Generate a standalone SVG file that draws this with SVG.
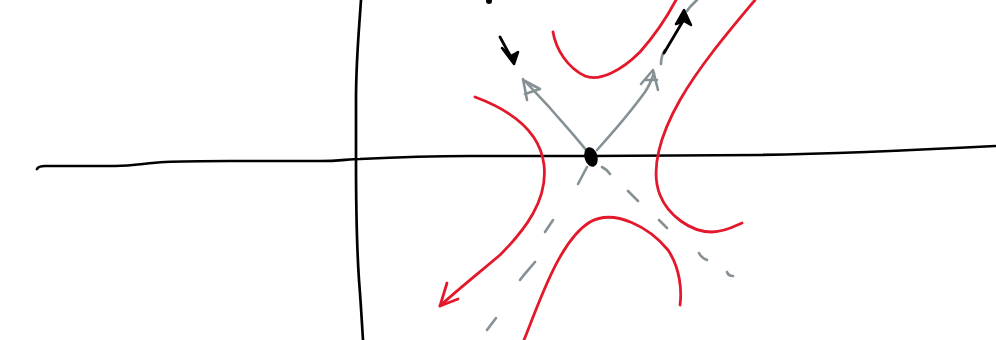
<svg xmlns="http://www.w3.org/2000/svg" width="996" height="340" viewBox="0 0 996 340">
<style>
.ax{fill:none;stroke:#000;stroke-width:2.7;stroke-linecap:round;stroke-linejoin:round}
.red{fill:none;stroke:#e3192b;stroke-width:2.8;stroke-linecap:round;stroke-linejoin:round}
.gray{fill:none;stroke:#869196;stroke-width:2.6;stroke-linecap:round;stroke-linejoin:round}
.blk{fill:none;stroke:#000;stroke-width:2.8;stroke-linecap:round;stroke-linejoin:round}
.head{fill:#000;stroke:#000;stroke-width:2.5;stroke-linejoin:round}
</style>
<rect width="996" height="340" fill="#fff"/>
<g id="axes">
<path class="ax" d="M37,169 C38,167 40,166 45,166 L115,166 C135,166 145,163 165,162 C185,161 200,161 230,161 L320,161 C340,161 348,159 360,159 C400,157 420,156 470,156 L590,156 C650,156 700,155 760,155 C820,154 880,152 995,146"/>
<path class="ax" d="M361,0 C359,30 356,60 356,100 L356,160 C356,210 357,250 359,280 C361,305 362,325 363,340"/>
</g>
<g id="trajectories">
<path class="red" d="M553,32 C556,50 568,68 585,76 C600,82 622,70 640,52 C655,35 668,15 676,0"/>
<path class="red" d="M755,0 C730,30 700,65 680,100 C660,135 650,170 660,195 C668,215 690,232 712,232 C725,232 735,226 742,223"/>
<path class="red" d="M475,97 C510,110 540,130 544,165 C548,200 525,230 500,255 C480,272 455,292 440,306"/>
<path class="red" d="M447,283 L440,306 L458,299"/>
<path class="red" d="M524,340 C540,300 560,240 590,222 C615,208 650,228 668,250 C680,268 682,290 680,305"/>
</g>
<g id="separatrices">
<path class="gray" d="M590,155 C577,138 562,122 550,108 C540,97 532,89 526,82"/>
<path class="gray" d="M523,79 L527,100 M523,80 L540,89 L525,94"/>
<path class="gray" d="M597,150 C615,130 632,110 645,92 C649,86 652,79 654,73"/>
<path class="gray" d="M653,70 L641,84 M653,70 L658,90 M645,80 L657,80"/>
<path class="gray" d="M661,64 C661,58 663,53 665,50"/>
<path class="gray" d="M687,11 C690,6 694,3 697,0"/>
<path class="gray" d="M587,167 L578,184 M553,220 L545,232 M535,262 C530,268 525,273 520,280 M496,318 L487,330"/>
<path class="gray" d="M602,167 C606,169 608,171 610,174 M628,191 L638,201 M659,220 L667,228 M699,253 C701,257 704,259 707,260 M727,272 C728,275 730,276 733,276"/>
</g>
<g id="black-arrows">
<path class="blk" d="M664,53 L683,21"/>
<path class="head" d="M676,24 L684,10 L691,25 L684,21 Z"/>
<path class="blk" d="M500,37 L512,59"/>
<path class="head" d="M502,48 L514,64 L518,52 L511,56 Z"/>
<circle cx="489" cy="1" r="3" fill="#000"/>
</g>
<g id="equilibrium">
<ellipse cx="591" cy="157" rx="6.5" ry="10" transform="rotate(-15 591 157)" fill="#000"/>
</g>
</svg>
